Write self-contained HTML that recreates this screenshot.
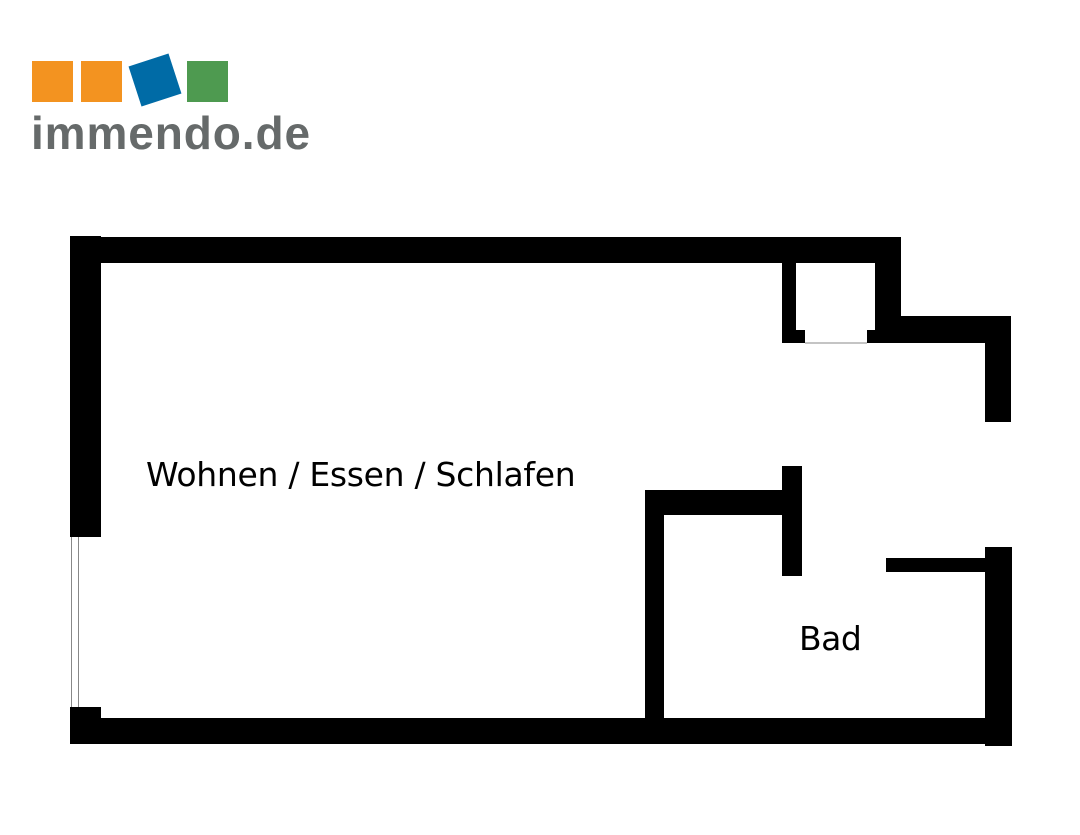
<!DOCTYPE html>
<html><head><meta charset="utf-8"><style>
html,body{margin:0;padding:0;background:#fff;width:1080px;height:835px;overflow:hidden;position:relative}
.t{position:absolute;font-family:"DejaVu Sans","Liberation Sans",sans-serif;color:#000;white-space:nowrap}
</style></head><body>
<div style="position:absolute;left:32px;top:61px;width:41px;height:41px;background:#f39320"></div>
<div style="position:absolute;left:81px;top:61px;width:41px;height:41px;background:#f39320"></div>
<div style="position:absolute;left:134px;top:59px;width:42px;height:42px;background:#006ba6;transform:rotate(-18deg)"></div>
<div style="position:absolute;left:187px;top:61px;width:41px;height:41px;background:#4e9a50"></div>
<div class="t" style="left:31px;top:106px;font-family:'Liberation Sans',sans-serif;font-weight:bold;font-size:46px;color:#666a6a;letter-spacing:0.9px">immendo.de</div>

<svg width="1080" height="835" style="position:absolute;left:0;top:0">
<g fill="#000">
<rect x="70" y="236" width="31" height="301"/>
<rect x="70" y="237" width="831" height="26"/>
<rect x="782" y="263" width="14" height="80"/>
<rect x="796" y="330" width="9" height="13"/>
<rect x="867" y="330" width="8" height="13"/>
<rect x="875" y="263" width="26" height="80"/>
<rect x="875" y="316" width="136" height="27"/>
<rect x="985" y="316" width="26" height="106"/>
<rect x="70" y="707" width="31" height="37"/>
<rect x="70" y="718" width="942" height="26"/>
<rect x="645" y="490" width="19" height="240"/>
<rect x="645" y="490" width="140" height="25"/>
<rect x="782" y="466" width="20" height="110"/>
<rect x="886" y="558" width="100" height="14"/>
<rect x="985" y="547" width="27" height="199"/>
</g>
<line x1="805" y1="343" x2="867" y2="343" stroke="#888" stroke-width="1"/>
<line x1="71.5" y1="537" x2="71.5" y2="707" stroke="#888" stroke-width="1"/>
<line x1="78.5" y1="537" x2="78.5" y2="707" stroke="#888" stroke-width="1"/>
</svg>
<div class="t" style="left:146px;top:455px;font-size:33px;letter-spacing:-0.3px">Wohnen / Essen / Schlafen</div>
<div class="t" style="left:799px;top:619px;font-size:33px;letter-spacing:-0.5px">Bad</div>
</body></html>
